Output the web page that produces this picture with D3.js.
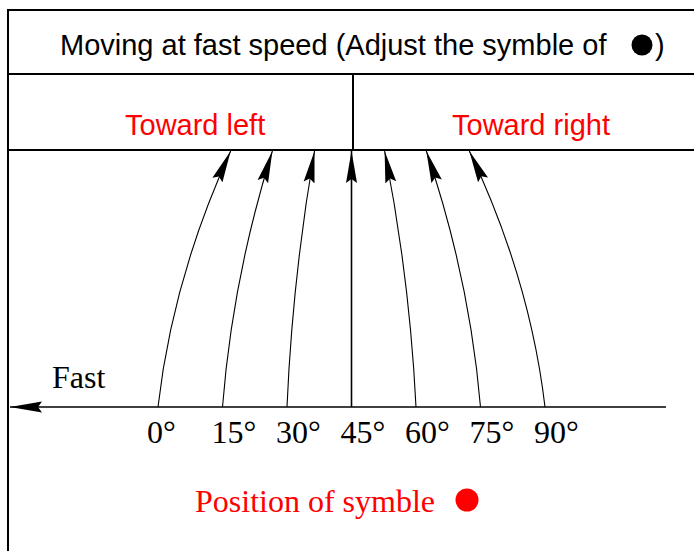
<!DOCTYPE html>
<html>
<head>
<meta charset="utf-8">
<script src="https://cdn.jsdelivr.net/npm/d3@7"></script>
<style>
  html, body { margin: 0; padding: 0; background: #fff; }
  svg { display: block; }
</style>
</head>
<body>
<svg id="chart" width="694" height="551"></svg>
<script>
// ---- data ----
const title = "Moving at fast speed (Adjust the symble of";
const titleClose = ")";
const sideLabels = ["Toward left", "Toward right"];
const angles = [0, 15, 30, 45, 60, 75, 90];              // start of each arrow on the axis
const angleLabels = ["0°", "15°", "30°", "45°", "60°", "75°", "90°"];
const tipAngles = [16.9, 26.6, 36.4, 45, 52.7, 62.4, 72.4]; // where each arrow ends, in axis units
const axisLabel = "Fast";
const legendLabel = "Position of symble";

// ---- setup ----
const svg = d3.select("#chart");
const W = 694, H = 551;
const frameL = 8, topY = 10, headY = 74, subY = 150, axisY = 407, axisEnd = 666, divX = 353;

const x = d3.scaleLinear().domain([0, 90]).range([158, 545]);
const y = d3.scaleLinear().domain([0, 1]).range([axisY, subY]);

const sans = "'Liberation Sans', Arial, Helvetica, sans-serif";
const serif = "'Liberation Serif', 'Times New Roman', Times, serif";

const defs = svg.append("defs");
defs.append("marker")
  .attr("id", "arrow")
  .attr("markerUnits", "userSpaceOnUse")
  .attr("viewBox", "0 -6 32 12")
  .attr("refX", 32).attr("refY", 0)
  .attr("markerWidth", 32).attr("markerHeight", 12)
  .attr("orient", "auto")
  .append("path")
  .attr("d", "M0,-5.5 L32,0 L0,5.5 L4,0 Z")
  .attr("fill", "#000");

// ---- frame ----
const frame = svg.append("g").attr("stroke", "#000").attr("stroke-width", 2).attr("fill", "none");
frame.append("line").attr("x1", frameL).attr("x2", W).attr("y1", topY).attr("y2", topY);
frame.append("line").attr("x1", frameL).attr("x2", frameL).attr("y1", topY - 1).attr("y2", H);
frame.append("line").attr("x1", frameL).attr("x2", W).attr("y1", headY).attr("y2", headY);
frame.append("line").attr("x1", frameL).attr("x2", W).attr("y1", subY).attr("y2", subY);
frame.append("line").attr("x1", divX).attr("x2", divX).attr("y1", headY).attr("y2", subY);

// ---- header ----
svg.append("text")
  .attr("x", 60).attr("y", 55)
  .attr("font-family", sans).attr("font-size", 29)
  .attr("fill", "#000")
  .text(title);
svg.append("circle").attr("cx", 642).attr("cy", 45).attr("r", 10.5).attr("fill", "#000");
svg.append("text")
  .attr("x", 655).attr("y", 55)
  .attr("font-family", sans).attr("font-size", 29)
  .attr("fill", "#000")
  .text(titleClose);

svg.append("text").attr("x", 125).attr("y", 135)
  .attr("font-family", sans).attr("font-size", 29).attr("fill", "#ff0000")
  .text(sideLabels[0]);
svg.append("text").attr("x", 452).attr("y", 135)
  .attr("font-family", sans).attr("font-size", 29).attr("fill", "#ff0000")
  .text(sideLabels[1]);

// ---- axis ----
svg.append("line")
  .attr("x1", axisEnd).attr("x2", frameL + 2)
  .attr("y1", axisY).attr("y2", axisY)
  .attr("stroke", "#000").attr("stroke-width", 1.6)
  .attr("marker-end", "url(#arrow)");

svg.append("text").attr("x", 52).attr("y", 388)
  .attr("font-family", serif).attr("font-size", 32).attr("fill", "#000")
  .text(axisLabel);

svg.append("g").selectAll("text")
  .data(angles)
  .join("text")
  .attr("x", d => x(d) - 11)
  .attr("y", 443)
  .attr("font-family", serif).attr("font-size", 32).attr("fill", "#000")
  .text((d, i) => angleLabels[i]);

// ---- arrows ----
svg.append("g").selectAll("path")
  .data(angles.map((a, i) => ({ a, t: tipAngles[i] })))
  .join("path")
  .attr("d", d => {
    const p = d3.path();
    const x0 = x(d.a), x1 = x(d.t);
    p.moveTo(x0, y(0));
    if (d.a === d.t) {
      p.lineTo(x1, y(1) + 1);
    } else {
      p.quadraticCurveTo(x0 + 0.2 * (x1 - x0), y(0.5), x1, y(1) + 1);
    }
    return p.toString();
  })
  .attr("fill", "none")
  .attr("stroke", "#000")
  .attr("stroke-width", d => d.a === d.t ? 1.6 : 1.1)
  .attr("marker-end", "url(#arrow)");

// ---- legend ----
svg.append("text").attr("x", 195).attr("y", 512)
  .attr("font-family", serif).attr("font-size", 32).attr("fill", "#ff0000")
  .text(legendLabel);
svg.append("circle").attr("cx", 467).attr("cy", 500).attr("r", 11.5).attr("fill", "#ff0000");
</script>
</body>
</html>
